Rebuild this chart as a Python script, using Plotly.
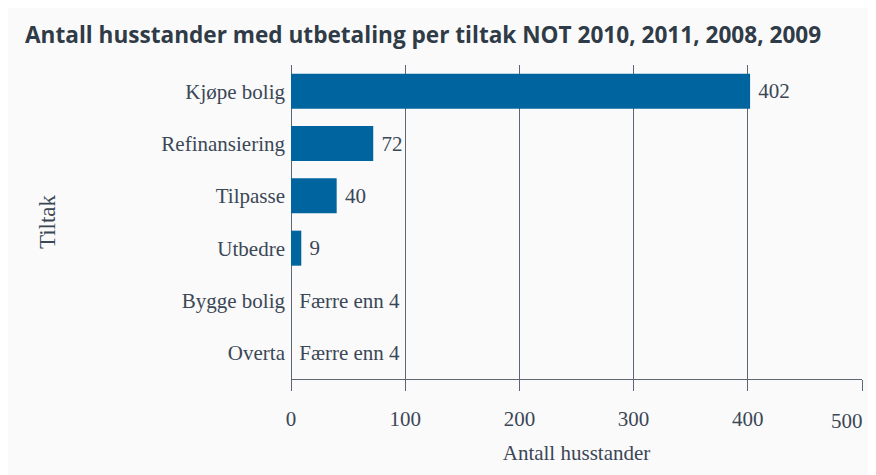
import plotly.graph_objects as go

categories = ["Kjøpe bolig", "Refinansiering", "Tilpasse", "Utbedre", "Bygge bolig", "Overta"]
values = [402, 72, 40, 9, 0, 0]
labels = ["402", "72", "40", "9", "Færre enn 4", "Færre enn 4"]
x_ticks = [0, 100, 200, 300, 400, 500]
x_tick_labels = ["0", "100", "200", "300", "400", "500"]

W, H = 876, 475
L, R, T, B = 283, 22, 57, 104

text_col = "#3a4756"
grid_col = "#5d6773"
fs = 21

fig = go.Figure(go.Bar(
    y=categories, x=values, orientation="h",
    marker=dict(color="#00659f", line=dict(width=0)),
    text=labels, texttemplate="\u00a0%{text}", textposition="outside", cliponaxis=False,
    textfont=dict(family="Liberation Serif", size=fs, color=text_col),
    width=0.67,
))

fig.update_layout(
    width=W, height=H,
    margin=dict(l=L, r=R, t=T, b=B, autoexpand=False),
    paper_bgcolor="#fafafa", plot_bgcolor="#fafafa",
    showlegend=False,
    font=dict(family="Liberation Serif", size=fs, color=text_col),
    title=dict(text="<b>Antall husstander med utbetaling per tiltak NOT 2010, 2011, 2008, 2009</b>",
               x=17 / W, xanchor="left", y=1 - 27 / H, yanchor="middle",
               font=dict(family="Open Sans", size=22.6, color="#2f3b47")),
    xaxis=dict(range=[0, 500], tickvals=x_ticks,
               ticktext=x_tick_labels[:-1] + [""],
               showgrid=True, gridcolor=grid_col, gridwidth=1,
               zeroline=True, zerolinecolor=grid_col, zerolinewidth=1,
               showline=True, linecolor=grid_col, linewidth=1,
               ticks="outside", ticklen=11, tickcolor=grid_col, ticklabelstandoff=10,
               title=dict(text="Antall husstander", standoff=15,
                          font=dict(family="Liberation Serif", size=fs, color=text_col)),
               tickfont=dict(family="Liberation Serif", size=fs, color=text_col)),
    yaxis=dict(categoryorder="array", categoryarray=categories, autorange="reversed",
               showgrid=False, ticks="", ticklabelstandoff=5,
               tickfont=dict(family="Liberation Serif", size=fs, color=text_col),
               title=dict(text="Tiltak", standoff=99,
                          font=dict(family="Liberation Serif", size=23, color=text_col))),
    annotations=[dict(text=x_tick_labels[-1], x=x_ticks[-1], xref="x", xanchor="right",
                      y=0, yref="paper", yshift=-42, yanchor="middle", xshift=3,
                      showarrow=False,
                      font=dict(family="Liberation Serif", size=fs, color=text_col))],
)

fig.write_html("out.html", default_width="876px", default_height="475px",
               post_script="document.documentElement.style.overflow='hidden';document.body.style.overflow='hidden';")
